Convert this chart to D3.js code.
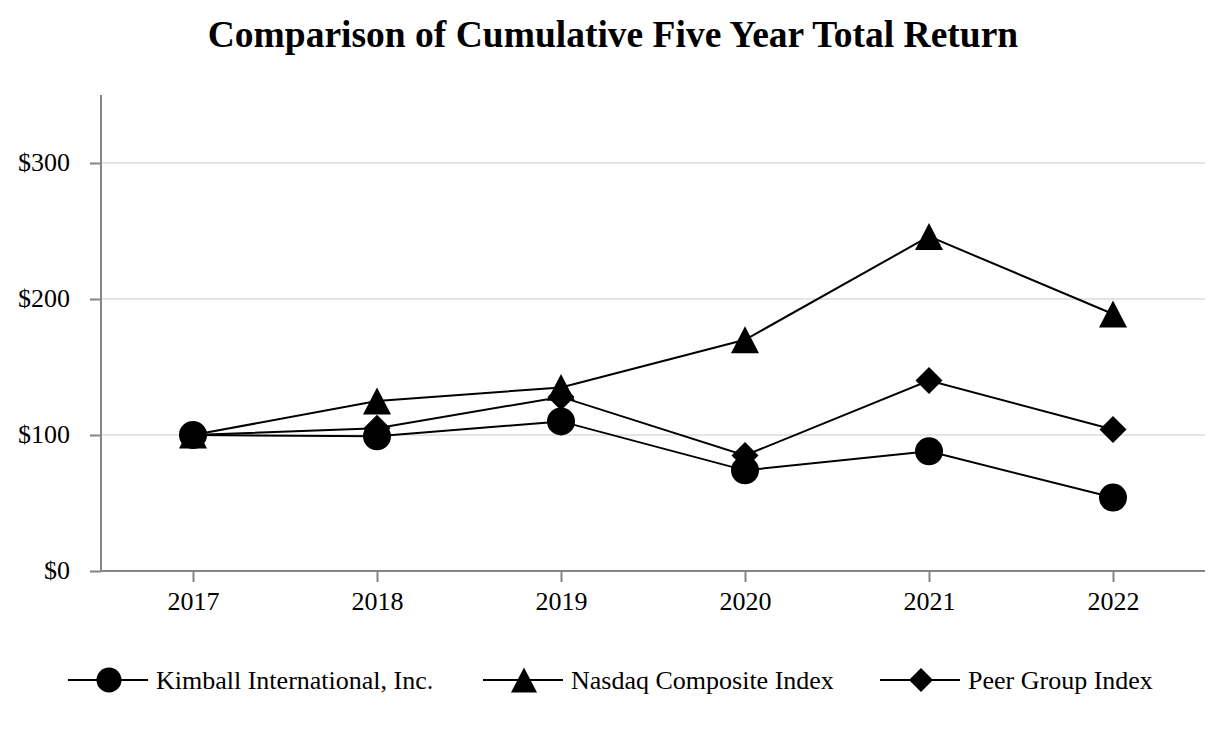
<!DOCTYPE html>
<html>
<head>
<meta charset="utf-8">
<script src="https://cdn.jsdelivr.net/npm/d3@7"></script>
<style>
  body { margin: 0; background: #fff; }
  text { font-family: "Liberation Serif", "Times New Roman", serif; fill: #000; }
</style>
</head>
<body>
<svg id="chart" width="1226" height="732"></svg>
<script>
var years = ["2017", "2018", "2019", "2020", "2021", "2022"];
var kimball = [100, 99, 110, 74, 88, 54];
var nasdaq = [100, 125, 135, 170, 246, 189];
var peer = [100, 105, 128, 85, 140, 104];
var yTicks = [0, 100, 200, 300];

// triangle a bit taller than equilateral, centred on its box
var tallTriangle = {
  draw: function (ctx, size) {
    var w = Math.sqrt(size), h = w * 0.96;
    ctx.moveTo(0, -h / 2);
    ctx.lineTo(w / 2, h / 2);
    ctx.lineTo(-w / 2, h / 2);
    ctx.closePath();
  }
};
// rotated square
var diamond = {
  draw: function (ctx, size) {
    var r = Math.sqrt(size) / 2;
    ctx.moveTo(0, -r);
    ctx.lineTo(r, 0);
    ctx.lineTo(0, r);
    ctx.lineTo(-r, 0);
    ctx.closePath();
  }
};

var series = [
  { name: "Kimball International, Inc.", values: kimball, symbol: d3.symbolCircle, size: 616, legendSize: 491 },
  { name: "Nasdaq Composite Index", values: nasdaq, symbol: tallTriangle, size: 784, legendSize: 676 },
  { name: "Peer Group Index", values: peer, symbol: diamond, size: 729, legendSize: 576 }
];

var svg = d3.select("#chart");
var margin = { left: 101, right: 21, top: 95, bottom: 161 };
var width = 1226 - margin.left - margin.right;
var height = 732 - margin.top - margin.bottom;

svg.append("text")
  .attr("x", 613)
  .attr("y", 47)
  .attr("text-anchor", "middle")
  .style("font-size", "37.5px")
  .style("font-weight", "bold")
  .text("Comparison of Cumulative Five Year Total Return");

var g = svg.append("g").attr("transform", "translate(" + margin.left + "," + margin.top + ")");

var x = d3.scalePoint().domain(years).range([0, width]).padding(0.5);
var y = d3.scaleLinear().domain([0, 350]).range([height, 0]);

// gridlines
g.selectAll(".grid").data(yTicks.slice(1)).enter().append("line")
  .attr("x1", 0).attr("x2", width)
  .attr("y1", y).attr("y2", y)
  .style("stroke", "#e4e4e4")
  .style("stroke-width", 2);

var yAxis = g.append("g")
  .call(d3.axisLeft(y).tickValues(yTicks).tickSize(11).tickPadding(20).tickFormat(function (d) { return "$" + d; }));
var xAxis = g.append("g")
  .attr("transform", "translate(0," + height + ")")
  .call(d3.axisBottom(x).tickSize(11).tickPadding(10));

[yAxis, xAxis].forEach(function (a) {
  a.select(".domain").style("stroke", "#858585").style("stroke-width", 2);
  a.selectAll(".tick line").style("stroke", "#858585").style("stroke-width", 2);
  a.selectAll("text").style("font-size", "26px").style("font-family", "Liberation Serif, serif").style("fill", "#000");
});
yAxis.select(".domain").attr("d", "M0," + height + "V0");
xAxis.select(".domain").attr("d", "M0,0H" + width);
yAxis.selectAll(".tick text").attr("dy", "0.3em");

var line = d3.line()
  .x(function (d, i) { return x(years[i]); })
  .y(function (d) { return y(d); });

series.forEach(function (s) {
  g.append("path")
    .datum(s.values)
    .attr("d", line)
    .style("fill", "none")
    .style("stroke", "#000")
    .style("stroke-width", 2);
});

series.slice().reverse().forEach(function (s) {
  g.selectAll(null).data(s.values).enter().append("path")
    .attr("transform", function (d, i) { return "translate(" + x(years[i]) + "," + y(d) + ")"; })
    .attr("d", d3.symbol().type(s.symbol).size(s.size))
    .style("fill", "#000");
});

// legend
var legendX = [68, 483, 880];
var legend = svg.append("g").attr("transform", "translate(0,680)");
series.forEach(function (s, i) {
  var lg = legend.append("g").attr("transform", "translate(" + legendX[i] + ",0)");
  lg.append("line").attr("x1", 0).attr("x2", 80).attr("y1", 0).attr("y2", 0)
    .style("stroke", "#000").style("stroke-width", 2);
  lg.append("path")
    .attr("transform", "translate(41,0)")
    .attr("d", d3.symbol().type(s.symbol).size(s.legendSize))
    .style("fill", "#000");
  lg.append("text").attr("x", 88).attr("y", 0).attr("dy", "0.33em")
    .style("font-size", "26px")
    .text(s.name);
});
</script>
</body>
</html>
